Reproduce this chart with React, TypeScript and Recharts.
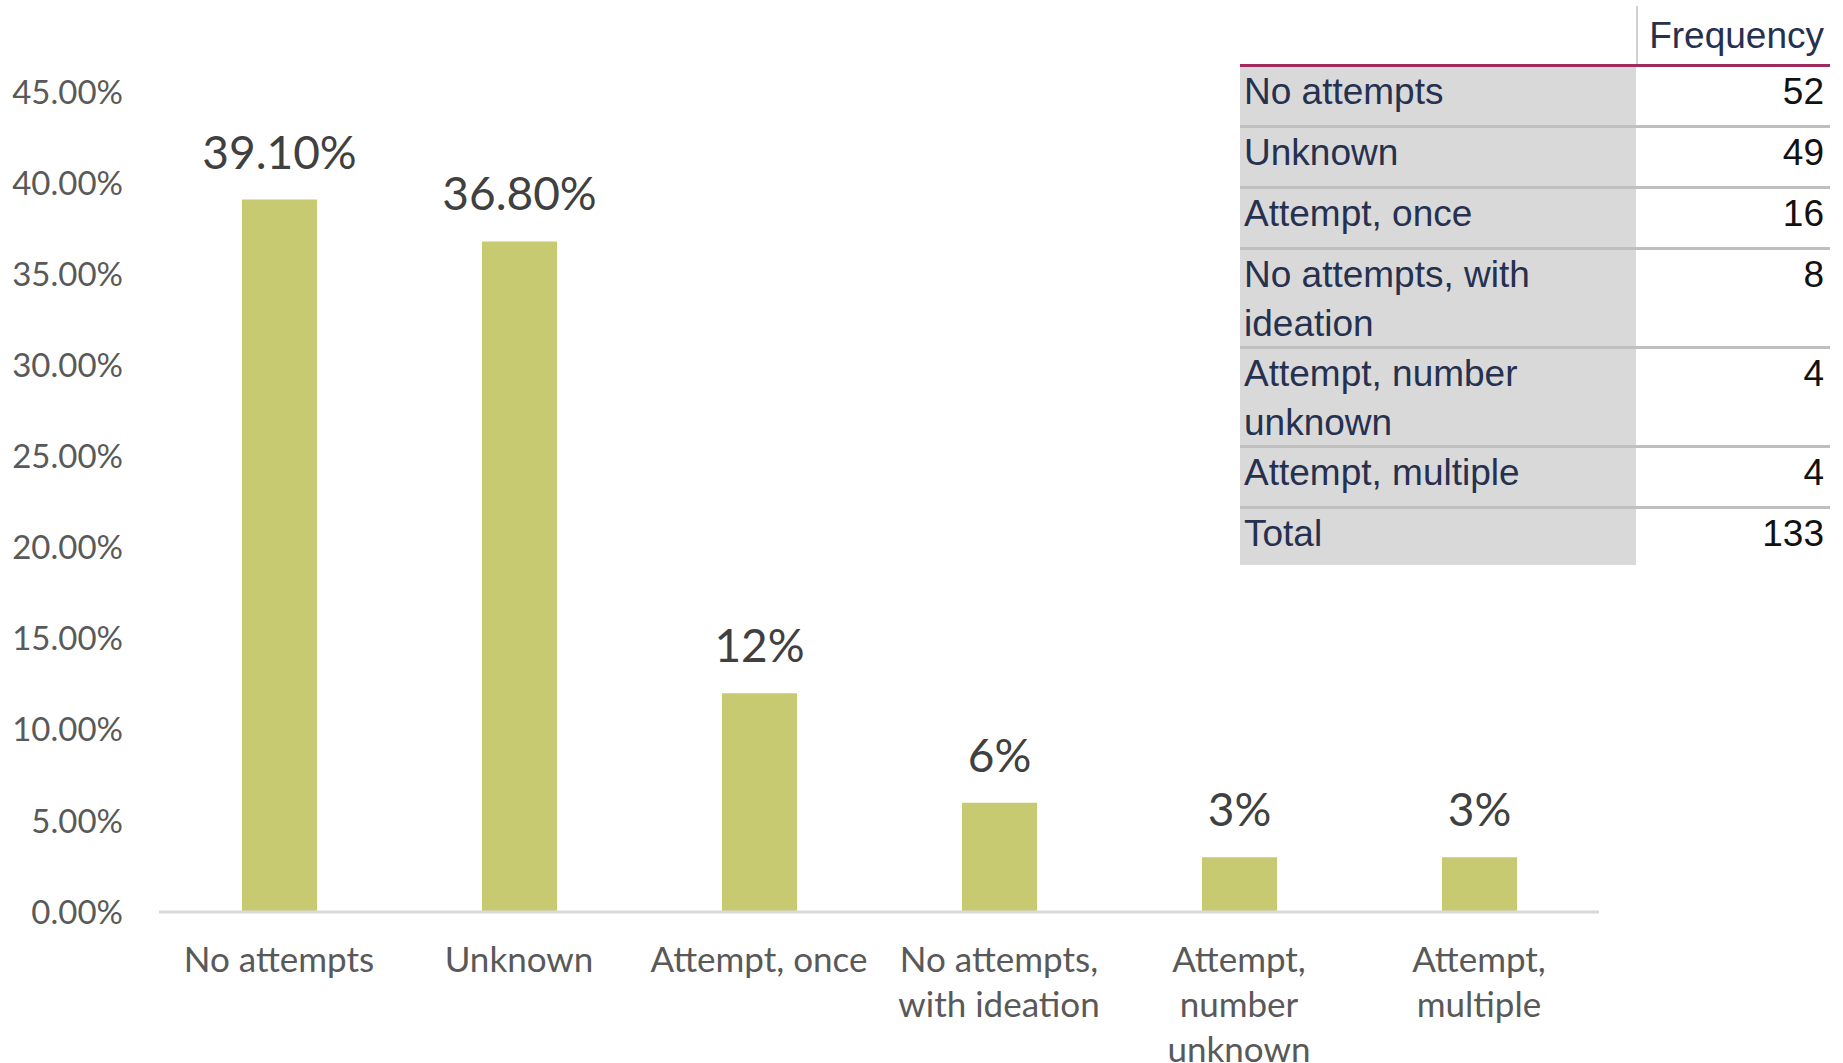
import React from 'react';
import { BarChart, Bar, XAxis, YAxis, LabelList } from 'recharts';

// chart values
const categories = [
  'No attempts',
  'Unknown',
  'Attempt, once',
  'No attempts, with ideation',
  'Attempt, number unknown',
  'Attempt, multiple',
];
const percentages = [39.1, 36.8, 12, 6, 3, 3];
const valueLabels = ['39.10%', '36.80%', '12%', '6%', '3%', '3%'];
const categoryLines = [
  ['No attempts'],
  ['Unknown'],
  ['Attempt, once'],
  ['No attempts,', 'with ideation'],
  ['Attempt,', 'number', 'unknown'],
  ['Attempt,', 'multiple'],
];
const yTicks = [0, 5, 10, 15, 20, 25, 30, 35, 40, 45];

// frequency table beside the chart
const tableLabelLines = [
  ['No attempts'],
  ['Unknown'],
  ['Attempt, once'],
  ['No attempts, with', 'ideation'],
  ['Attempt, number', 'unknown'],
  ['Attempt, multiple'],
  ['Total'],
];
const frequencies = [52, 49, 16, 8, 4, 4, 133];

const data = categories.map((name, i) => ({
  name,
  pct: percentages[i],
  label: valueLabels[i],
}));

const CategoryTick = (props: any) => {
  const { x, y, payload } = props;
  const idx = categories.indexOf(payload.value);
  const lines = categoryLines[idx] || [payload.value];
  return (
    <text
      x={x}
      y={y}
      textAnchor="middle"
      fill="#595959"
      fontFamily="Lato"
      fontSize={35}
    >
      {lines.map((line, i) => (
        <tspan key={i} x={x} dy={i === 0 ? 58 : 45}>
          {line}
        </tspan>
      ))}
    </text>
  );
};

const TopLabel = (props: any) => {
  const { x, y, width, value } = props;
  return (
    <text
      x={x + width / 2}
      y={y - 31}
      textAnchor="middle"
      fill="#404040"
      fontFamily="Lato"
      fontSize={46}
    >
      {value}
    </text>
  );
};

const FrequencyTable = () => {
  const labelColor = '#26304f';
  return (
    <div
      style={{
        position: 'absolute',
        left: 1240,
        top: 6,
        width: 590,
        fontFamily: '"Liberation Sans", Arial, sans-serif',
        fontSize: 37,
        lineHeight: '49px',
      }}
    >
      <div style={{ display: 'flex', height: 58 }}>
        <div style={{ width: 396 }} />
        <div
          style={{
            width: 194,
            borderLeft: '2px solid #d0d0d0',
            textAlign: 'right',
            paddingRight: 6,
            boxSizing: 'border-box',
            color: labelColor,
            display: 'flex',
            alignItems: 'center',
            justifyContent: 'flex-end',
          }}
        >
          Frequency
        </div>
      </div>
      <div style={{ height: 3, background: '#9e2a5e' }} />
      {tableLabelLines.map((lines, i) => {
        const last = i === tableLabelLines.length - 1;
        const h = lines.length > 1 ? 96 : last ? 56 : 58;
        return (
          <div
            key={i}
            style={{
              display: 'flex',
              height: h,
              borderBottom: last ? 'none' : '3px solid #bfbfbf',
            }}
          >
            <div
              style={{
                width: 396,
                background: '#d9d9d9',
                paddingLeft: 4,
                boxSizing: 'border-box',
                color: labelColor,
              }}
            >
              {lines.map((l, j) => (
                <div key={j}>{l}</div>
              ))}
            </div>
            <div
              style={{
                width: 194,
                textAlign: 'right',
                paddingRight: 6,
                boxSizing: 'border-box',
                color: '#111111',
              }}
            >
              {frequencies[i]}
            </div>
          </div>
        );
      })}
    </div>
  );
};

export default function App() {
  return (
    <div
      style={{
        position: 'absolute',
        left: 0,
        top: 0,
        width: 1843,
        height: 1063,
        background: '#ffffff',
        overflow: 'hidden',
      }}
    >
      <BarChart
        width={1843}
        height={1063}
        data={data}
        margin={{ top: 92, right: 244, bottom: 121, left: 0 }}
      >
        <XAxis
          dataKey="name"
          height={30}
          interval={0}
          tick={<CategoryTick />}
          tickLine={false}
          tickSize={0}
          axisLine={{ stroke: '#d9d9d9', strokeWidth: 3 }}
        />
        <YAxis
          width={159}
          domain={[0, 45]}
          ticks={yTicks}
          interval={0}
          axisLine={false}
          tickLine={false}
          tickSize={6}
          tickMargin={30}
          tickFormatter={(v: number) => `${v.toFixed(2)}%`}
          tick={{ fill: '#595959', fontFamily: 'Lato', fontSize: 33 }}
        />
        <Bar dataKey="pct" fill="#c8ca72" barSize={75} isAnimationActive={false}>
          <LabelList dataKey="label" content={<TopLabel />} />
        </Bar>
      </BarChart>
      <FrequencyTable />
    </div>
  );
}
